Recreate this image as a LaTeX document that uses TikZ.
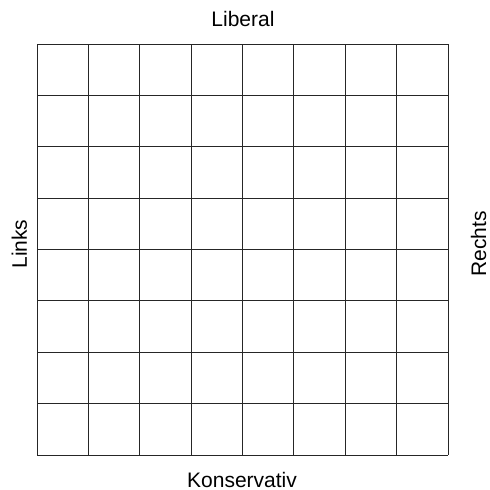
\documentclass[tikz,border=0pt]{standalone}
\usepackage{fontspec}
\setmainfont{Liberation Sans}
\usetikzlibrary{calc}
\begin{document}
\begin{tikzpicture}[x=1pt,y=-1pt,
  lbl/.style={font=\fontsize{21}{25}\selectfont,inner sep=0pt,anchor=base},
  gridline/.style={line width=0.8pt,black!85}]
\useasboundingbox (0,0) rectangle (490,490);
\fill[white] (0,0) rectangle (490,490);
\coordinate (tl) at (37,44);
\coordinate (br) at (448,455);
\foreach \i in {0,...,8}{
  \draw[gridline] ($(tl)+(\i*51.375,0)$) -- ($(tl)+(\i*51.375,411)$);
  \draw[gridline] ($(tl)+(0,\i*51.375)$) -- ($(tl)+(411,\i*51.375)$);
}
\node[lbl] (lib) at (243,26) {Liberal};
\node[lbl] (kon) at (242,487) {Konservativ};
\node[lbl,rotate=90] (links) at (27,244) {Links};
\node[lbl,rotate=90] (rechts) at (486,244) {Rechts};
\end{tikzpicture}
\end{document}
